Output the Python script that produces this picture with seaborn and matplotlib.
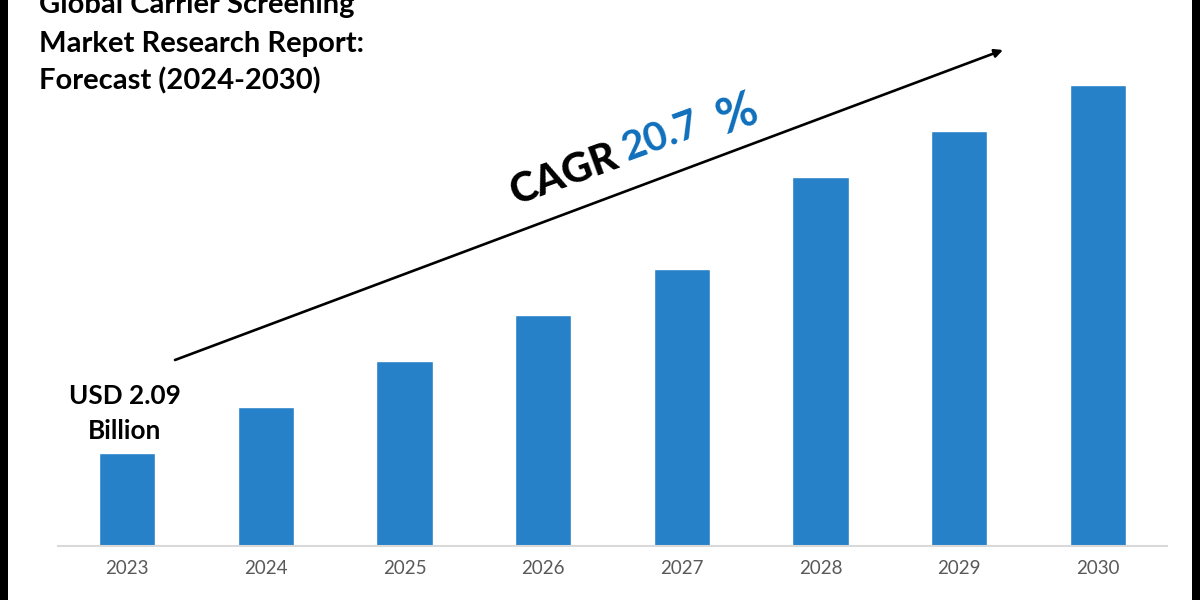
import matplotlib
matplotlib.use("Agg")
import matplotlib.pyplot as plt
from matplotlib.patches import Rectangle
import seaborn as sns
import pandas as pd

# values are bar heights, in pixels above the axis
years = ["2023", "2024", "2025", "2026", "2027", "2028", "2029", "2030"]
heights = [93, 139, 185, 231, 277, 369, 415, 461]
title_lines = ["Global Carrier Screening", "Market Research Report:", "Forecast (2024-2030)"]
value_lines = ["USD 2.09", "Billion"]

sns.set_theme(style="white")
plt.rcParams['font.family'] = ['Lato', 'DejaVu Sans']

df = pd.DataFrame({"year": years, "height": heights})


def fx(px):
    return px / 1200


def fy(py):
    return 1 - py / 600


fig = plt.figure(figsize=(12, 6), dpi=100)
ax = fig.add_axes([fx(58), fy(546), fx(1167 - 58), 546 / 600])
sns.barplot(data=df, x="year", y="height", color="#2681C8", saturation=1, width=0.405, ax=ax)
ax.set_ylim(0, 546)
ax.set_xlim(-0.5, 7.5)
ax.set_xlabel("")
ax.set_ylabel("")
ax.set_yticks([])
ax.tick_params(axis='x', labelsize=13.5, colors="#595959", pad=10, length=0)
sns.despine(ax=ax, left=True)
ax.spines['bottom'].set_color("#D9D9D9")
ax.spines['bottom'].set_linewidth(1.5)

# Black strips on both sides
for x0 in [0, 1192]:
    fig.add_artist(Rectangle((fx(x0), 0), fx(8), 1, transform=fig.transFigure, color='black', lw=0))

# Title, cut off at the top like the reference
for line, base in zip(title_lines, [13, 52, 89]):
    fig.text(fx(39), fy(base), line, fontsize=21, fontweight='bold', color='black', ha='left', va='baseline')

# First bar label
for line, base in zip(value_lines, [404, 439]):
    fig.text(fx(125), fy(base), line, fontsize=18.8, fontweight='bold', color='black', ha='center', va='baseline')

# Arrow
ax.annotate("", xy=(fx(1003), fy(50)), xytext=(fx(175), fy(360)),
            xycoords='figure fraction', textcoords='figure fraction',
            arrowprops=dict(arrowstyle='-|>', color='black', lw=1.9, mutation_scale=12, shrinkA=0, shrinkB=0))

# CAGR
fig.text(fx(564), fy(175), "CAGR", fontsize=29.5, fontweight='black', color='black',
         rotation=20, rotation_mode='anchor', ha='center', va='center')
fig.text(fx(661), fy(137), "20.7", fontsize=29, fontweight='bold', color='#0F6FBB',
         rotation=20, rotation_mode='anchor', ha='center', va='center')
fig.text(fx(737), fy(115), "%", fontsize=35, fontweight='bold', color='#0F6FBB',
         rotation=20, rotation_mode='anchor', ha='center', va='center')

plt.savefig("out.png", dpi=100)
